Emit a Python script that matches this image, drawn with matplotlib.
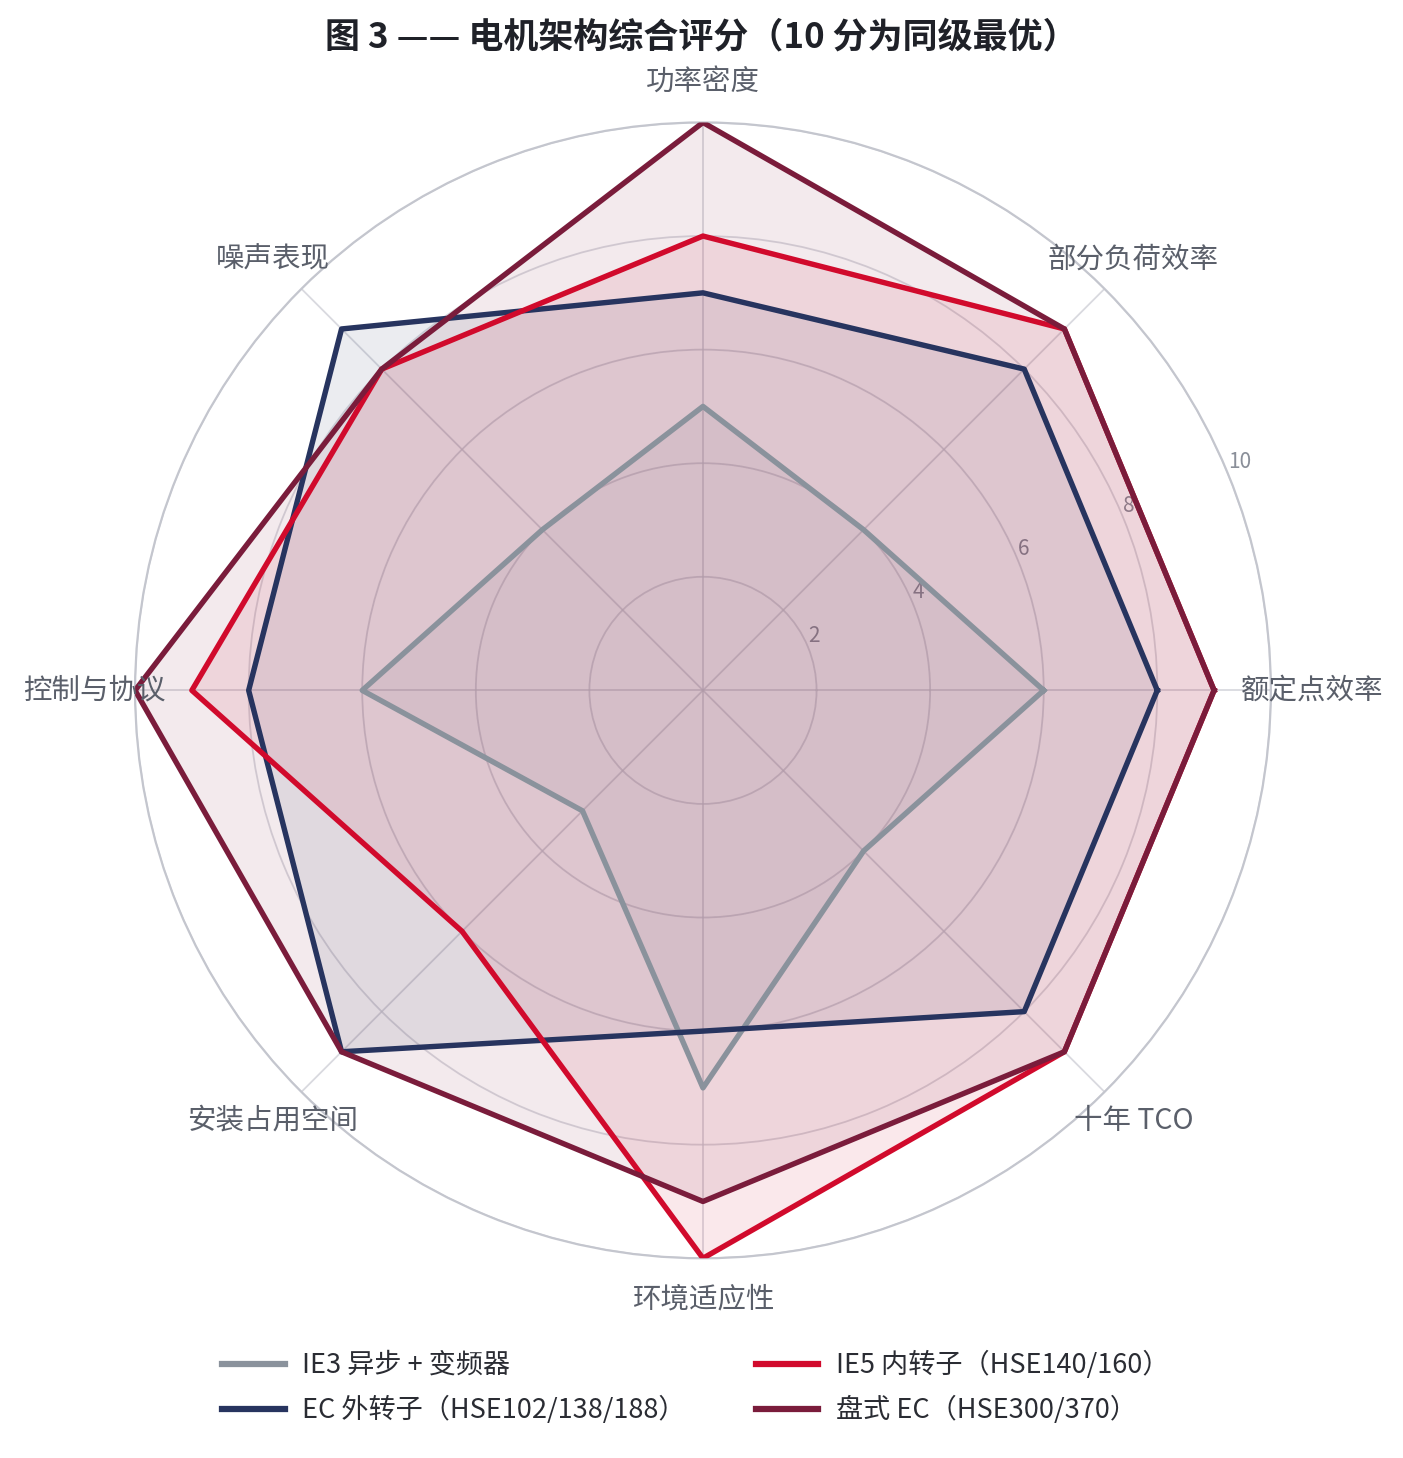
import numpy as np
import matplotlib
matplotlib.use("Agg")
import matplotlib.pyplot as plt

plt.rcParams["font.family"] = ["Noto Sans CJK SC", "DejaVu Sans"]

categories = ["额定点效率", "部分负荷效率", "功率密度", "噪声表现",
              "控制与协议", "安装占用空间", "环境适应性", "十年 TCO"]
series_names = ["IE3 异步 + 变频器", "EC 外转子（HSE102/138/188）",
                "IE5 内转子（HSE140/160）", "盘式 EC（HSE300/370）"]
ie3 = [6, 4, 5, 4, 6, 3, 7, 4]
ec_outer = [8, 8, 7, 9, 8, 9, 6, 8]
ie5_inner = [9, 9, 8, 8, 9, 6, 10, 9]
disc_ec = [9, 9, 10, 8, 10, 9, 9, 9]
colors = ["#8a929c", "#27345f", "#d10a2c", "#7a1c3b"]
rticks = [2, 4, 6, 8, 10]

fig = plt.figure(figsize=(14.03, 14.58), dpi=100)
ax = fig.add_axes([0.0962, 0.137, 0.8097, 0.779], projection="polar")

n = len(categories)
angles = np.linspace(0, 2 * np.pi, n, endpoint=False)
closed = np.concatenate([angles, angles[:1]])

for vals, name, c in zip([ie3, ec_outer, ie5_inner, disc_ec], series_names, colors):
    v = np.concatenate([vals, vals[:1]])
    ax.fill(closed, v, color=c, alpha=0.09, zorder=2)
    ax.plot(closed, v, color=c, lw=3.9, label=name, zorder=3)

ax.set_ylim(0, 10)
ax.set_yticks(rticks)
ax.set_yticklabels([str(t) for t in rticks], color="#8a8f99", fontsize=15)
ax.set_rlabel_position(22.5)
ax.set_xticks(angles)
ax.set_xticklabels([])
ax.grid(color="#c9cad2", lw=1.3, alpha=0.7)
ax.spines["polar"].set_color("#c4c6ce")
ax.spines["polar"].set_linewidth(1.6)

for a, lab in zip(angles, categories):
    ax.text(a, 10.72, lab, ha="center", va="center", fontsize=20.5, color="#5a5f6a")

fig.suptitle("图 3 —— 电机架构综合评分（10 分为同级最优）", fontsize=25.2,
             fontweight="bold", color="#1f2128", y=0.9745, va="center")

leg = fig.legend(loc="center", bbox_to_anchor=(0.496, 0.0484), ncol=2,
                 frameon=False, fontsize=19.5, handlelength=2.3,
                 handletextpad=0.65, columnspacing=2.6, labelspacing=0.62)
for t in leg.get_texts():
    t.set_color("#2a2c33")
for h in leg.get_lines():
    h.set_linewidth(4.5)

fig.savefig("out.png", dpi=100, facecolor="white")
